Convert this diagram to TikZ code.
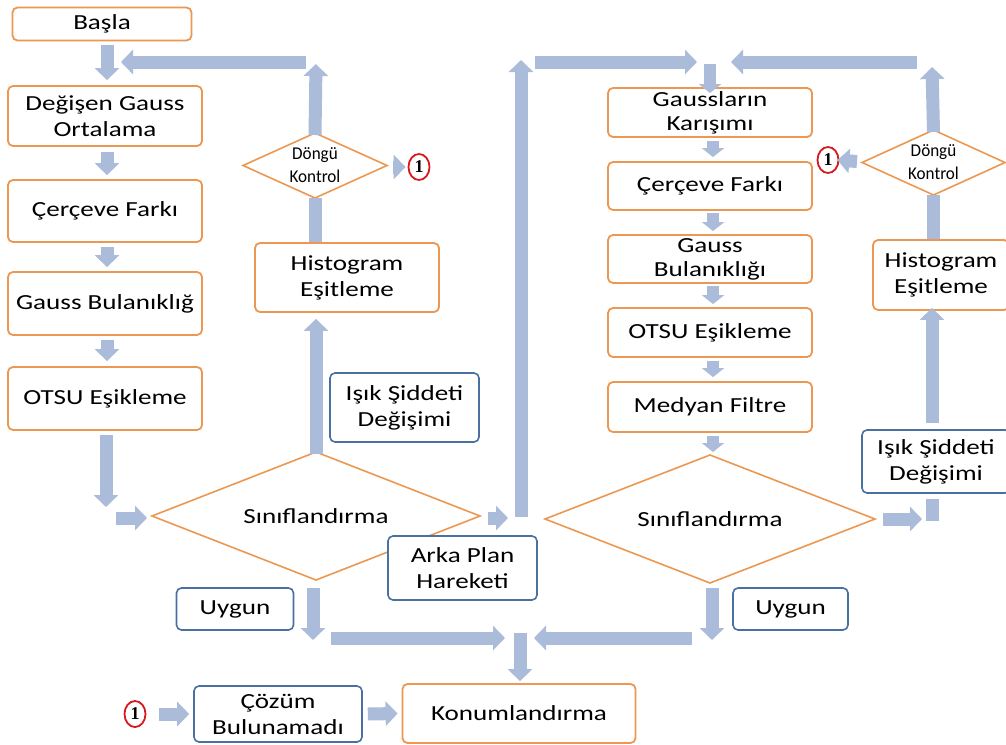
\documentclass[tikz,border=0pt]{standalone}
\usepackage{fontspec}
\setmainfont{Carlito}[FakeStretch=1.26]
\newfontfamily\dfont{Carlito}[FakeStretch=0.95]
\newfontfamily\nfont{Liberation Serif}
\usetikzlibrary{shapes.geometric,arrows.meta}
\definecolor{orangeb}{RGB}{236,152,82}
\definecolor{blueb}{RGB}{72,112,160}
\definecolor{arrowc}{RGB}{170,188,218}
\definecolor{ringc}{RGB}{215,25,30}
\begin{document}
\begin{tikzpicture}[x=1pt,y=-1pt,
 font=\fontsize{21.5}{26}\selectfont,
 obox/.style={draw=orangeb, line width=1.8pt, rounded corners=5pt, fill=white, align=center, inner sep=0pt},
 bbox/.style={draw=blueb, line width=1.6pt, rounded corners=5pt, fill=white, align=center, inner sep=0pt},
 dia/.style={diamond, draw=orangeb, line width=1.6pt, fill=white, inner sep=0pt, outer sep=0pt},
 dlabel/.style={label={[align=center, inner sep=0pt, font=\dfont\fontsize{18}{23}\selectfont]center:#1}},
 blabel/.style={label={[inner sep=0pt]center:#1}},
 onering/.style={ellipse, draw=ringc, line width=1.8pt, minimum width=21pt, minimum height=26pt, inner sep=0pt, font=\nfont\bfseries\fontsize{18}{18}\selectfont},
 barrow/.style={draw=arrowc, line width=13pt, -{Triangle[width=24pt,length=12pt]}},
 sarrow/.style={draw=arrowc, line width=12pt, -{Triangle[width=22pt,length=9pt]}},
 blockbar/.style={draw=arrowc, line width=13pt},
 rbox/.style={obox, minimum width=204pt, font=\fontsize{21.5}{24}\selectfont}
]
\useasboundingbox (0,0) rectangle (1006,744);
\fill[white] (0,0) rectangle (1006,744);

% left column
\node[obox, minimum width=179pt, minimum height=33pt] (basla) at (102,24) {Başla};
\node[obox, minimum width=194pt, minimum height=60pt] (dgo) at (105,116) {Değişen Gauss\\Ortalama};
\node[obox, minimum width=194pt, minimum height=62pt] (cf1) at (105,211) {Çerçeve Farkı};
\node[obox, minimum width=194pt, minimum height=63pt] (gb1) at (105,303.5) {Gauss Bulanıklığ};
\node[obox, minimum width=194pt, minimum height=63pt] (otsu1) at (105,398.5) {OTSU Eşikleme};
\node[dia, minimum width=144pt, minimum height=65pt, dlabel={Döngü\\Kontrol}] (dk1) at (315,165.5) {};
\node[onering] (one1) at (419,167) {1};
\node[obox, minimum width=184pt, minimum height=69pt] (hist1) at (347,277.5) {Histogram\\Eşitleme};
\node[bbox, minimum width=149pt, minimum height=69pt] (isik1) at (404.5,407.5) {Işık Şiddeti\\Değişimi};
\node[dia, minimum width=328pt, minimum height=128pt, blabel={Sınıflandırma}] (sin1) at (316,516) {};
\node[bbox, minimum width=149pt, minimum height=64pt] (arka) at (462.5,568) {Arka Plan\\Hareketi};
\node[bbox, minimum width=117pt, minimum height=42pt] (uyg1) at (235,609) {Uygun};
\node[onering] (one3) at (135,714) {1};
\node[bbox, minimum width=168pt, minimum height=56pt] (cozum) at (278,714) {Çözüm\\Bulunamadı};
\node[obox, minimum width=233pt, minimum height=59pt] (konum) at (519,713.5) {Konumlandırma};

% right column
\node[rbox, minimum height=49pt] (gk) at (710,112.5) {Gaussların\\Karışımı};
\node[rbox, minimum height=48pt] (cf2) at (710,186) {Çerçeve Farkı};
\node[rbox, minimum height=48pt] (gb2) at (710,259) {Gauss\\Bulanıklığı};
\node[rbox, minimum height=49pt] (otsu2) at (710,332.5) {OTSU Eşikleme};
\node[rbox, minimum height=50pt] (med) at (710,407) {Medyan Filtre};
\node[dia, minimum width=330pt, minimum height=128pt, blabel={Sınıflandırma}] (sin2) at (710,519) {};
\node[bbox, minimum width=115pt, minimum height=42pt] (uyg2) at (790.5,609) {Uygun};
\node[bbox, minimum width=148pt, minimum height=63pt] (isik2) at (936,461.5) {Işık Şiddeti\\Değişimi};
\node[obox, minimum width=136pt, minimum height=70pt] (hist2) at (941,275) {Histogram\\Eşitleme};
\node[dia, minimum width=143pt, minimum height=65pt, dlabel={Döngü\\Kontrol}] (dk2) at (933.5,162.5) {};
\node[onering] (one2) at (828,160) {1};

% free ends
\coordinate (c1) at (106,507);
\coordinate (c2) at (116,518);
\coordinate (c3) at (508,518);
\coordinate (c4) at (521,517);
\coordinate (c5) at (521,60);
\coordinate (c6) at (535,62);
\coordinate (c7) at (697,62);
\coordinate (c8) at (710,64);
\coordinate (c9) at (917,62);
\coordinate (c10) at (731,62);
\coordinate (c11) at (932,67);
\coordinate (c12) at (922,519);
\coordinate (c13) at (932,521);
\coordinate (r1) at (316,64);
\coordinate (r2) at (306,62);
\coordinate (r3) at (121,62);
\coordinate (b1) at (313,640);
\coordinate (b2) at (331,638);
\coordinate (b3) at (505,638);
\coordinate (b4) at (520,633);
\coordinate (b5) at (692,638);
\coordinate (b6) at (534,638);
\coordinate (b7) at (712,640);

% left column arrows
\draw[barrow] ([shift={(5,4)}]basla.south) -- ([shift={(2,-5)}]dgo.north);
\draw[barrow] ([shift={(2,5)}]dgo.south) -- ([shift={(2,-4)}]cf1.north);
\draw[barrow] ([shift={(2,4)}]cf1.south) -- ([shift={(2,-4)}]gb1.north);
\draw[barrow] ([shift={(2,4)}]gb1.south) -- ([shift={(2,-5)}]otsu1.north);
\draw[barrow] ([shift={(1,4)}]otsu1.south) -- (c1);
\draw[barrow] (c2) -- ([shift={(-5,2)}]sin1.west);

% left loop
\draw[barrow] ([yshift=-2pt]sin1.north) -- ([yshift=-6pt]hist1.south -| sin1.north);
\draw[blockbar] (hist1.north -| dk1.south) -- (dk1.south);
\draw[barrow] ([yshift=-2pt]dk1.north) -- (r1);
\draw[barrow] (r2) -- (r3);
\draw[barrow] ([shift={(6,1.5)}]dk1.east) -- ([xshift=-2pt]one1.west);

% middle
\draw[barrow] ([shift={(8,2)}]sin1.east) -- (c3);
\draw[barrow] (c4) -- (c5);
\draw[barrow] (c6) -- (c7);
\draw[sarrow] (c8) -- ([yshift=-6pt]gk.north);
\draw[barrow] (c9) -- (c10);
\draw[barrow] ([yshift=-2pt]dk2.north) -- (c11);
\draw[barrow] ([shift={(-5,-1)}]dk2.west) -- ([xshift=-2pt]one2.east);
\draw[blockbar] (hist2.north -| dk2.south) -- (dk2.south);
\draw[barrow] ([shift={(-4,-6)}]isik2.north) -- ([shift={(-9,-3)}]hist2.south);
\draw[blockbar] ([shift={(-4,5)}]isik2.south) -- (c13);
\draw[barrow] ([shift={(8,0)}]sin2.east) -- (c12);

% right column arrows
\draw[sarrow] ([shift={(3,3)}]gk.south) -- ([shift={(3,-4)}]cf2.north);
\draw[sarrow] ([shift={(3,2)}]cf2.south) -- ([shift={(3,-3)}]gb2.north);
\draw[sarrow] ([shift={(3,2)}]gb2.south) -- ([shift={(3,-3)}]otsu2.north);
\draw[sarrow] ([shift={(3,3)}]otsu2.south) -- ([shift={(3,-4)}]med.north);
\draw[sarrow] ([shift={(3,3)}]med.south) -- ([shift={(3,-3)}]sin2.north);

% bottom
\draw[barrow] ([shift={(-3,8)}]sin1.south) -- (b1);
\draw[barrow] (b2) -- (b3);
\draw[barrow] (b4) -- ([shift={(1,-2)}]konum.north);
\draw[barrow] (b5) -- (b6);
\draw[barrow] ([shift={(2,5)}]sin2.south) -- (b7);
\draw[barrow] ([xshift=13pt]one3.east) -- ([xshift=-4pt]cozum.west);
\draw[barrow] ([xshift=5pt]cozum.east) -- ([xshift=-4pt]konum.west);
\end{tikzpicture}
\end{document}
